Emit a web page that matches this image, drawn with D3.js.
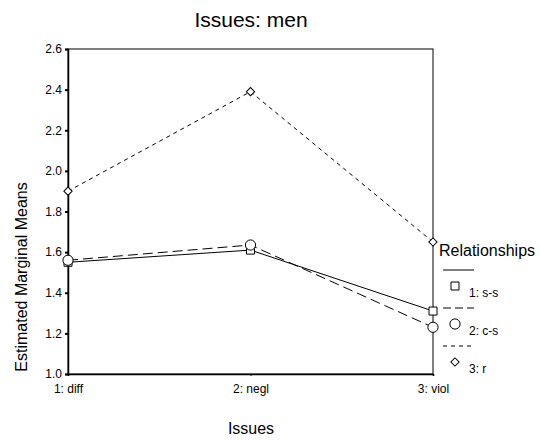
<!DOCTYPE html>
<html>
<head>
<meta charset="utf-8">
<script src="https://cdn.jsdelivr.net/npm/d3@7"></script>
<style>
  body { margin: 0; background: #fff; }
  text { font-family: "Liberation Sans", Arial, sans-serif; fill: #000; }
</style>
</head>
<body>
<div id="chart"></div>
<script>
// chart data
let issues = ["1: diff", "2: negl", "3: viol"];
let groups = ["1: s-s", "2: c-s", "3: r"];
let ssValues = [1.55, 1.61, 1.31];
let csValues = [1.56, 1.635, 1.23];
let rValues = [1.9, 2.39, 1.65];
let yTicks = [1.0, 1.2, 1.4, 1.6, 1.8, 2.0, 2.2, 2.4, 2.6];

let w = 540;
let h = 440;
let padLeft = 68, padRight = 433, padTop = 49, padBottom = 374;

let svg = d3
  .select("#chart")
  .append("svg")
  .attr("width", w)
  .attr("height", h);

let x = d3.scalePoint().domain(issues).range([padLeft, padRight]);
let y = d3.scaleLinear().domain([1.0, 2.6]).range([padBottom, padTop]);

// frame
svg.append("rect")
  .attr("x", padLeft).attr("y", padTop)
  .attr("width", padRight - padLeft).attr("height", padBottom - padTop)
  .attr("fill", "none").attr("stroke", "#000").attr("stroke-width", 1);

let yAxis = d3.axisLeft(y)
  .tickValues(yTicks)
  .tickSize(3)
  .tickFormat(d3.format(".1f"));

let ya = svg.append("g")
  .attr("transform", "translate(" + padLeft + ",0)")
  .call(yAxis);
ya.select(".domain").attr("stroke", "#000").attr("stroke-width", 1.5);
ya.selectAll(".tick line").attr("stroke", "#000").attr("stroke-width", 2);
ya.selectAll("text").attr("font-size", 12).attr("fill", "#000");

let xAxis = d3.axisBottom(x).tickSize(2);
let xa = svg.append("g")
  .attr("transform", "translate(0," + padBottom + ")")
  .call(xAxis);
xa.select(".domain").attr("stroke", "#000").attr("stroke-width", 1.5);
xa.selectAll(".tick line").attr("stroke", "#000");
xa.selectAll("text").attr("font-size", 12).attr("fill", "#000").attr("dy", "1.15em");

let series = [
  { name: groups[0], values: ssValues, dash: null, shape: d3.symbolSquare, size: 64, rot: 0 },
  { name: groups[1], values: csValues, dash: "10,5", shape: d3.symbolCircle, size: 82, rot: 0 },
  { name: groups[2], values: rValues, dash: "4,4", shape: d3.symbolSquare, size: 34, rot: 45 }
];

let line = d3.line()
  .x(function(d, i) { return x(issues[i]); })
  .y(function(d) { return y(d); });

series.forEach(function(s) {
  svg.append("path")
    .datum(s.values)
    .attr("d", line)
    .attr("fill", "none")
    .attr("stroke", "#000")
    .attr("stroke-width", 1)
    .attr("stroke-dasharray", s.dash);

  svg.append("g")
    .selectAll("path")
    .data(s.values)
    .enter()
    .append("path")
    .attr("d", d3.symbol().type(s.shape).size(s.size))
    .attr("transform", function(d, i) {
      return "translate(" + x(issues[i]) + "," + y(d) + ") rotate(" + s.rot + ")";
    })
    .attr("fill", "#fff")
    .attr("stroke", "#000")
    .attr("stroke-width", 1);
});

// titles
svg.append("text")
  .attr("x", 251).attr("y", 27)
  .attr("text-anchor", "middle")
  .attr("font-size", 21)
  .text("Issues: men");

svg.append("text")
  .attr("transform", "translate(27,277) rotate(-90)")
  .attr("text-anchor", "middle")
  .attr("font-size", 16)
  .text("Estimated Marginal Means");

svg.append("text")
  .attr("x", 251).attr("y", 434)
  .attr("text-anchor", "middle")
  .attr("font-size", 16)
  .text("Issues");

// legend
let lg = svg.append("g").attr("transform", "translate(437,0)");
lg.append("text")
  .attr("x", 2).attr("y", 256)
  .attr("font-size", 16)
  .text("Relationships");

series.forEach(function(s, i) {
  let y0 = 270 + i * 38;
  lg.append("line")
    .attr("x1", 6).attr("x2", 37)
    .attr("y1", y0).attr("y2", y0)
    .attr("stroke", "#000")
    .attr("stroke-dasharray", i == 1 ? "8,4" : s.dash);
  lg.append("path")
    .attr("d", d3.symbol().type(s.shape).size(s.size))
    .attr("transform", "translate(18," + (y0 + 16) + ") rotate(" + s.rot + ")")
    .attr("fill", "#fff")
    .attr("stroke", "#000");
  lg.append("text")
    .attr("x", 32).attr("y", y0 + 26.5)
    .attr("font-size", 12)
    .text(s.name);
});
</script>
</body>
</html>
